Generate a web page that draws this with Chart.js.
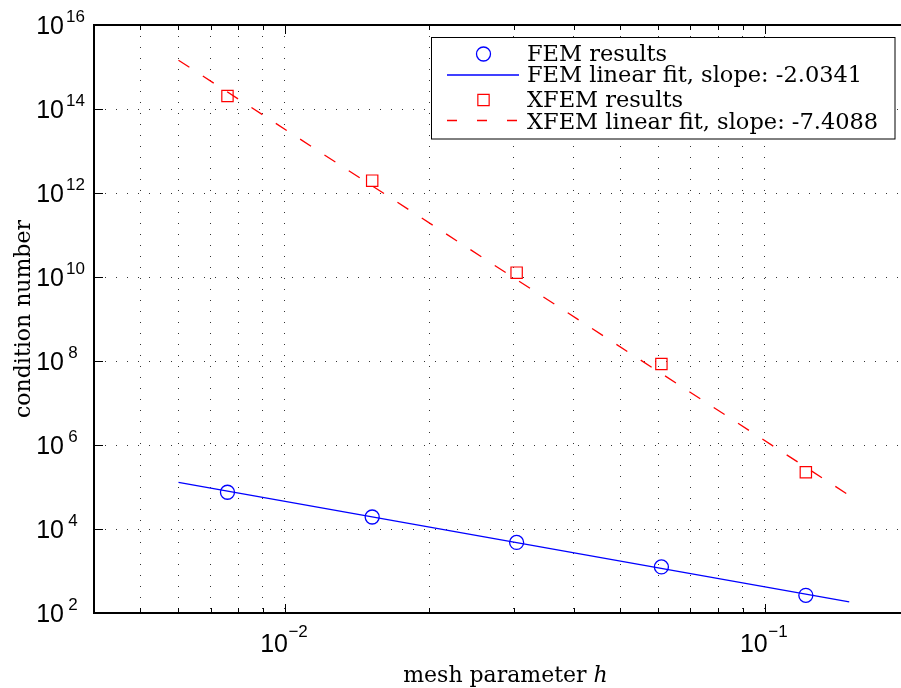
<!DOCTYPE html>
<html>
<head>
<meta charset="utf-8">
<script src="https://cdn.jsdelivr.net/npm/chart.js@4.4.1/dist/chart.umd.min.js"></script>
<style>
html,body{margin:0;padding:0;background:#fff;overflow:hidden;}
#wrap{width:901px;height:688px;position:relative;}
</style>
</head>
<body>
<div id="wrap"><canvas id="c" width="901" height="688"></canvas></div>
<script>
// ---- data ----
const meshH    = [0.00759, 0.0152, 0.0304, 0.0609, 0.1218];
const femCond  = [7.5e4, 1.93e4, 4.8e3, 1.25e3, 2.64e2];
const xfemCond = [2.04e14, 1.97e12, 1.27e10, 8.5e7, 2.24e5];
const fitH     = [0.006, 0.15];
const femFit   = [1.29e5, 1.85e2];
const xfemFit  = [1.45e15, 6.3e4];
const seriesLabels = ['FEM results', 'FEM linear fit, slope: -2.0341', 'XFEM results', 'XFEM linear fit, slope: -7.4088'];
const xMin = 0.004, xMax = 0.1923;   // right part of the axes is cropped in the picture
const xTicks = [0.004,0.005,0.006,0.007,0.008,0.009,0.01,0.02,0.03,0.04,0.05,0.06,0.07,0.08,0.09,0.1];
const xLabelValues = [0.01, 0.1];
const xLabelExps = ['\u22122', '\u22121'];
const yTicks = [1e2,1e4,1e6,1e8,1e10,1e12,1e14,1e16];
const yLabelExps = ['2','4','6','8','10','12','14','16'];
const xTitle = 'mesh parameter ';
const xTitleVar = 'h';
const yTitle = 'condition number';

const BLUE = '#0000ff', RED = '#ff0000';
const toXY = (xs, ys) => xs.map((v, i) => ({x: v, y: ys[i]}));

const tickFont = '"Liberation Sans", Arial, sans-serif';
const serif = '"DejaVu Serif", "Liberation Serif", serif';

function isDecade(v){ const l = Math.log10(v); return Math.abs(l - Math.round(l)) < 1e-9; }

const decor = {
  id: 'decor',
  afterDraw(chart) {
    const {ctx, chartArea: a, scales: {x, y}} = chart;
    const line = (x1, y1, x2, y2) => { ctx.beginPath(); ctx.moveTo(x1, y1); ctx.lineTo(x2, y2); ctx.stroke(); };
    ctx.save();
    // frame (left, top, bottom; right edge lies outside the picture)
    ctx.strokeStyle = '#000';
    ctx.lineWidth = 2;
    ctx.beginPath();
    ctx.moveTo(chart.width, a.top); ctx.lineTo(a.left, a.top); ctx.lineTo(a.left, a.bottom); ctx.lineTo(chart.width, a.bottom);
    ctx.stroke();
    // inner ticks
    ctx.lineWidth = 1;
    xTicks.forEach(v => {
      const px = Math.round(x.getPixelForValue(v)) + 0.5;
      const len = isDecade(v) ? 9 : 5;
      line(px, a.bottom, px, a.bottom - len);
      line(px, a.top, px, a.top + len);
    });
    yTicks.forEach(v => {
      const py = Math.round(y.getPixelForValue(v)) + 0.5;
      line(a.left, py, a.left + 9, py);
    });
    // tick labels
    ctx.fillStyle = '#000';
    ctx.textBaseline = 'alphabetic';
    yTicks.forEach((v, i) => {
      const py = y.getPixelForValue(v);
      ctx.font = '25px ' + tickFont;
      ctx.textAlign = 'right';
      ctx.fillText('10', 64, py + 9);
      ctx.font = '17px ' + tickFont;
      ctx.textAlign = 'center';
      const e = yLabelExps[i];
      ctx.fillText(e, 73 + (e.length - 1) * 2.5, py - 3);
    });
    xLabelValues.forEach((v, i) => {
      const px = x.getPixelForValue(v);
      ctx.font = '25px ' + tickFont;
      ctx.textAlign = 'right';
      ctx.fillText('10', px + 3, 652);
      ctx.font = '17px ' + tickFont;
      ctx.textAlign = 'left';
      ctx.fillText(xLabelExps[i], px + 3.5, 637);
    });
    // axis titles
    ctx.font = '22px ' + serif;
    const w1 = ctx.measureText(xTitle).width;
    ctx.font = 'italic 22px ' + serif;
    const w2 = ctx.measureText(xTitleVar).width;
    const cx = 505.5;
    let sx = cx - (w1 + w2) / 2;
    ctx.textAlign = 'left';
    ctx.font = '22px ' + serif;
    ctx.fillText(xTitle, sx, 682);
    ctx.font = 'italic 22px ' + serif;
    ctx.fillText(xTitleVar, sx + w1, 682);
    ctx.save();
    ctx.translate(30, (a.top + a.bottom) / 2);
    ctx.rotate(-Math.PI / 2);
    ctx.font = '22px ' + serif;
    ctx.textAlign = 'center';
    ctx.fillText(yTitle, 0, 0);
    ctx.restore();
    // legend
    const L = {left: 431.5, top: 37.5, right: 895, bottom: 139};
    ctx.fillStyle = '#fff';
    ctx.fillRect(L.left, L.top, L.right - L.left, L.bottom - L.top);
    ctx.strokeStyle = '#000';
    ctx.lineWidth = 1;
    ctx.strokeRect(L.left, L.top, L.right - L.left, L.bottom - L.top);
    const sampleY = [54, 75, 100, 120.5];
    const textY = [61, 82, 106.5, 129];
    const ds = chart.data.datasets;
    ds.forEach((d, i) => {
      const yy = sampleY[i];
      ctx.save();
      ctx.strokeStyle = d.borderColor;
      if (d.showLine) {
        ctx.lineWidth = d.borderWidth;
        ctx.setLineDash(d.borderDash && d.borderDash.length ? [10, 20] : []);
        line(447, yy, 519, yy);
      } else {
        ctx.lineWidth = d.pointBorderWidth;
        ctx.beginPath();
        if (d.pointStyle === 'circle') {
          ctx.arc(483.5, yy, d.pointRadius, 0, Math.PI * 2);
        } else {
          const s = d.pointRadius * Math.SQRT1_2;
          ctx.rect(483.5 - s, yy - s, 2 * s, 2 * s);
        }
        ctx.stroke();
      }
      ctx.restore();
      ctx.fillStyle = '#000';
      ctx.font = '22.5px ' + serif;
      ctx.textAlign = 'left';
      ctx.fillText(d.label, 527, textY[i]);
    });
    ctx.restore();
  }
};

new Chart(document.getElementById('c'), {
  type: 'scatter',
  data: {
    datasets: [
      {label: seriesLabels[0], data: toXY(meshH, femCond), borderColor: BLUE, backgroundColor: 'rgba(0,0,0,0)',
       pointStyle: 'circle', pointRadius: 7, pointBorderWidth: 1.3, pointBorderColor: BLUE, showLine: false},
      {label: seriesLabels[1], data: toXY(fitH, femFit), borderColor: BLUE, borderWidth: 1.3,
       pointRadius: 0, showLine: true, fill: false},
      {label: seriesLabels[2], data: toXY(meshH, xfemCond), borderColor: RED, backgroundColor: 'rgba(0,0,0,0)',
       pointStyle: 'rect', pointRadius: 8, pointBorderWidth: 1.2, pointBorderColor: RED, showLine: false},
      {label: seriesLabels[3], data: toXY(fitH, xfemFit), borderColor: RED, borderWidth: 1.3, borderDash: [13, 16],
       pointRadius: 0, showLine: true, fill: false}
    ]
  },
  options: {
    responsive: false,
    animation: false,
    devicePixelRatio: 1,
    layout: {autoPadding: false, padding: {left: 94, top: 25, right: 0, bottom: 75}},
    plugins: {legend: {display: false}, tooltip: {enabled: false}},
    scales: {
      x: {
        type: 'logarithmic', min: xMin, max: xMax,
        afterBuildTicks: s => { s.ticks = xTicks.map(v => ({value: v})); },
        ticks: {display: false},
        grid: {drawTicks: false, color: 'rgba(0,0,0,0.8)', lineWidth: 1},
        border: {display: false, dash: [1, 10]}
      },
      y: {
        type: 'logarithmic', min: 1e2, max: 1e16,
        afterBuildTicks: s => { s.ticks = yTicks.map(v => ({value: v})); },
        ticks: {display: false},
        grid: {drawTicks: false, color: 'rgba(0,0,0,0.8)', lineWidth: 1},
        border: {display: false, dash: [1, 10]}
      }
    }
  },
  plugins: [decor]
});
</script>
</body>
</html>
